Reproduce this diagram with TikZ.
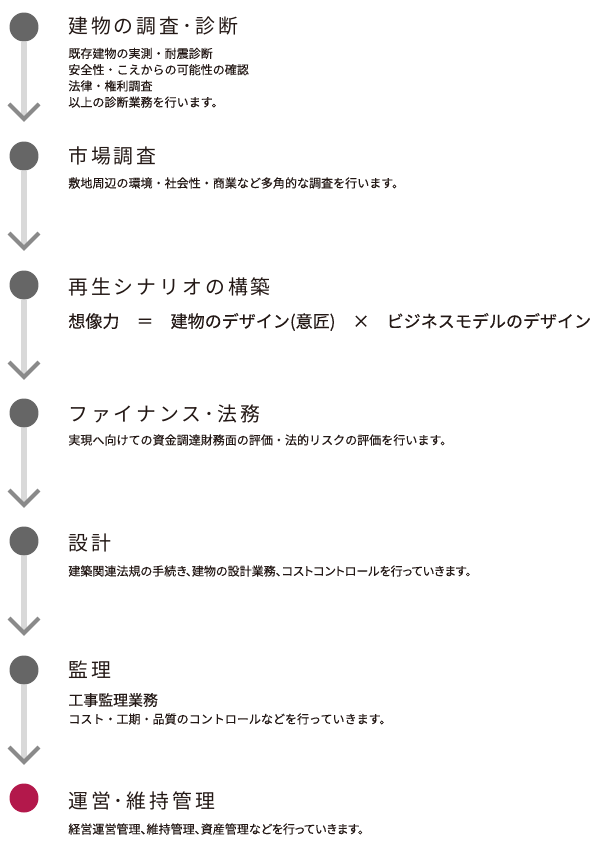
\documentclass[tikz,border=0pt]{standalone}
\usepackage{fontspec}
\setmainfont{Noto Sans CJK JP}[FakeBold=0.12]
\newfontfamily\titlefont[LetterSpace=15]{Noto Sans CJK JP}
\newfontfamily\paltfont[RawFeature=+palt,FakeBold=0.12]{Noto Sans CJK JP}

\definecolor{dotgray}{HTML}{666666}
\definecolor{dotred}{HTML}{B3184B}
\definecolor{stemgray}{HTML}{D9D9D9}
\definecolor{chevgray}{HTML}{8A8A8A}
\definecolor{ink}{HTML}{231815}

\begin{document}
\begin{tikzpicture}[x=0.02cm,y=-0.02cm,
  dot/.style={circle,fill=dotgray,inner sep=0pt,minimum size=0.58cm},
  stem/.style={draw=stemgray,line width=3.4pt},
  chev/.style={draw=chevgray,line width=2.3pt,line join=miter},
  title/.style={anchor=west,inner sep=0pt,text=ink,
    font=\titlefont\fontsize{11.3}{13}\selectfont},
  body/.style={anchor=west,inner sep=0pt,text=ink,align=left,
    font=\fontsize{6.85}{9.25}\selectfont}]
  \useasboundingbox (0,0) rectangle (600,848);

  % steps
  \node[dot] (c1) at (24,27) {};
  \node[dot] (c2) at (24,156) {};
  \node[dot] (c3) at (24,285) {};
  \node[dot] (c4) at (24,413) {};
  \node[dot] (c5) at (24,541) {};
  \node[dot] (c6) at (24,670) {};
  \node[dot,fill=dotred] (c7) at (24,798) {};

  % arrow tips
  \coordinate (t1) at (24,119);
  \coordinate (t2) at (24,248);
  \coordinate (t3) at (24,377);
  \coordinate (t4) at (24,505);
  \coordinate (t5) at (24,633);
  \coordinate (t6) at (24,762);

  \draw[stem] (c1.south) -- (t1);
  \draw[stem] (c2.south) -- (t2);
  \draw[stem] (c3.south) -- (t3);
  \draw[stem] (c4.south) -- (t4);
  \draw[stem] (c5.south) -- (t5);
  \draw[stem] (c6.south) -- (t6);
  \draw[chev] (t1) ++(-15,-15) -- (t1) -- ++(15,-15);
  \draw[chev] (t2) ++(-15,-15) -- (t2) -- ++(15,-15);
  \draw[chev] (t3) ++(-15,-15) -- (t3) -- ++(15,-15);
  \draw[chev] (t4) ++(-15,-15) -- (t4) -- ++(15,-15);
  \draw[chev] (t5) ++(-15,-15) -- (t5) -- ++(15,-15);
  \draw[chev] (t6) ++(-15,-15) -- (t6) -- ++(15,-15);

  % texts
  \node[title] (h1) at (68,26) {建物の調査･診断};
  \node[body,anchor=north west] (b1) at (68,47.5)
    {既存建物の実測・耐震診断\\安全性・こえからの可能性の確認\\法律・権利調査\\以上の診断業務を行います。};
  \node[title] (h2) at (68,156) {市場調査};
  \node[body] (b2) at (68,183) {敷地周辺の環境・社会性・商業など多角的な調査を行います。};
  \node[title] (h3) at (68,287) {再生シナリオの構築};
  \node[body,font=\fontsize{9.7}{12}\selectfont] (b3) at (68,322)
    {想像力　＝　建物のデザイン(意匠)　×　ビジネスモデルのデザイン};
  \node[title] (h4) at (68,414) {ファイナンス･法務};
  \node[body] (b4) at (68,440) {実現へ向けての資金調達財務面の評価・法的リスクの評価を行います。};
  \node[title] (h5) at (68,543) {設計};
  \node[body,font=\paltfont\fontsize{6.85}{9.25}\selectfont] (b5) at (68,571)
    {建築関連法規の手続き、建物の設計業務、コストコントロールを行っていきます。};
  \node[title] (h6) at (68,670) {監理};
  \node[body,font=\fontsize{8.5}{11}\selectfont] (b6) at (68,700) {工事監理業務};
  \node[body] (b6b) at (68,719) {コスト・工期・品質のコントロールなどを行っていきます。};
  \node[title] (h7) at (68,801) {運営･維持管理};
  \node[body,font=\paltfont\fontsize{6.85}{9.25}\selectfont] (b7) at (68,829)
    {経営運営管理、維持管理、資産管理などを行っていきます。};
\end{tikzpicture}
\end{document}
